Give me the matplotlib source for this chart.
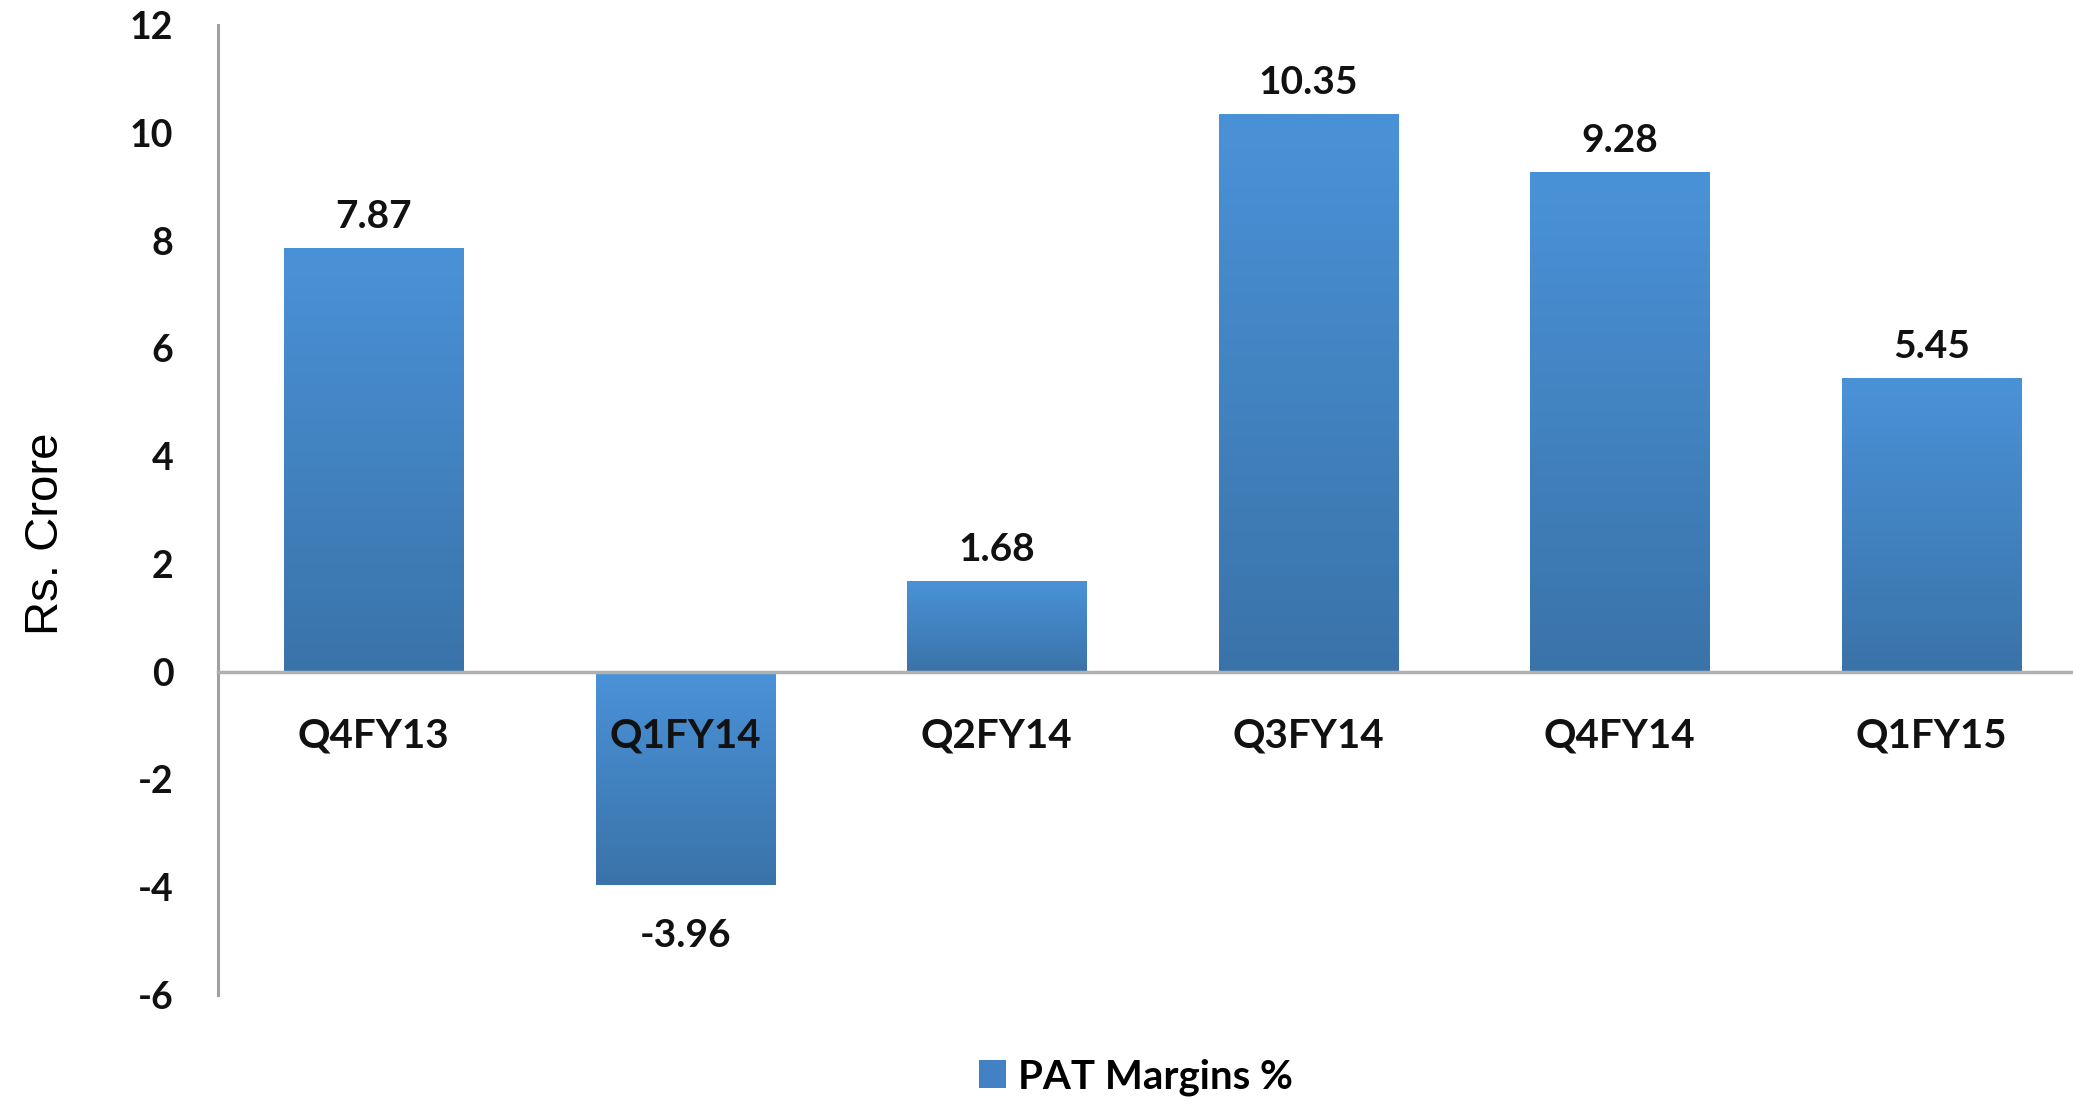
import numpy as np
import matplotlib.pyplot as plt
from matplotlib.patches import Patch
from matplotlib.colors import LinearSegmentedColormap

quarters = ['Q4FY13', 'Q1FY14', 'Q2FY14', 'Q3FY14', 'Q4FY14', 'Q1FY15']
pat_margins = [7.87, -3.96, 1.68, 10.35, 9.28, 5.45]
yticks = [-6, -4, -2, 0, 2, 4, 6, 8, 10, 12]

plt.rcParams['font.family'] = ['Lato', 'DejaVu Sans']
plt.rcParams['font.weight'] = 'bold'

fig = plt.figure(figsize=(20.73, 11.07), dpi=100)
ax = fig.add_axes([218 / 2073, 0.1012, (2087 - 218) / 2073, 0.8762])
ax.set_axisbelow(False)  # tick labels over the bars (Q1FY14 label sits on its bar)

x = np.arange(len(quarters))
bars = ax.bar(x, pat_margins, width=0.575, color='#4285c8', zorder=1)

# gradient fill on each bar (lighter top, darker bottom)
cmap = LinearSegmentedColormap.from_list('bar', ['#3a73a9', '#4a92d8'])
grad = np.linspace(0, 1, 256).reshape(-1, 1)
for b in bars:
    x0, y0 = b.get_x(), b.get_y()
    w, h = b.get_width(), b.get_height()
    lo, hi = min(y0, y0 + h), max(y0, y0 + h)
    im = ax.imshow(grad, cmap=cmap, extent=[x0, x0 + w, lo, hi], origin='lower',
                   aspect='auto', zorder=1.2, interpolation='bilinear')
    im.set_clip_path(b)

# value labels
for xi, v in zip(x, pat_margins):
    if v >= 0:
        ax.annotate('%.2f' % v, xy=(xi, v), xytext=(0, 10), textcoords='offset points',
                    ha='center', va='bottom', fontsize=28, color='#111111')
    else:
        ax.annotate('%.2f' % v, xy=(xi, v), xytext=(0, -24), textcoords='offset points',
                    ha='center', va='top', fontsize=28, color='#111111')

for s in ['top', 'right']:
    ax.spines[s].set_visible(False)
ax.spines['bottom'].set_position(('data', 0))
ax.spines['bottom'].set_color('#b0b0b0')
ax.spines['bottom'].set_linewidth(2.5)
ax.spines['left'].set_color('#a0a0a0')
ax.spines['left'].set_linewidth(2.2)

ax.set_xlim(-0.5, len(quarters) - 0.5)
ax.set_ylim(-6, 12)
ax.set_yticks(yticks)
ax.set_yticklabels([str(t) for t in yticks])
ax.set_xticks(x)
ax.set_xticklabels(quarters)
ax.tick_params(axis='y', length=0, pad=32, labelsize=27, labelcolor='#111111')
ax.tick_params(axis='x', length=0, pad=33, labelsize=29, labelcolor='#111111')

ax.set_ylabel('Rs. Crore', fontsize=34, family='Liberation Sans', fontweight='normal')
ax.yaxis.set_label_coords(-0.08, 0.475)

leg = fig.legend(handles=[Patch(facecolor='#4282c4', label='PAT Margins %')],
                 loc='center', bbox_to_anchor=(0.548, 1 - 1077 / 1107), frameon=False,
                 fontsize=29, handlelength=0.65, handleheight=0.7, handletextpad=0.3)

fig.savefig('out.png', dpi=100)
